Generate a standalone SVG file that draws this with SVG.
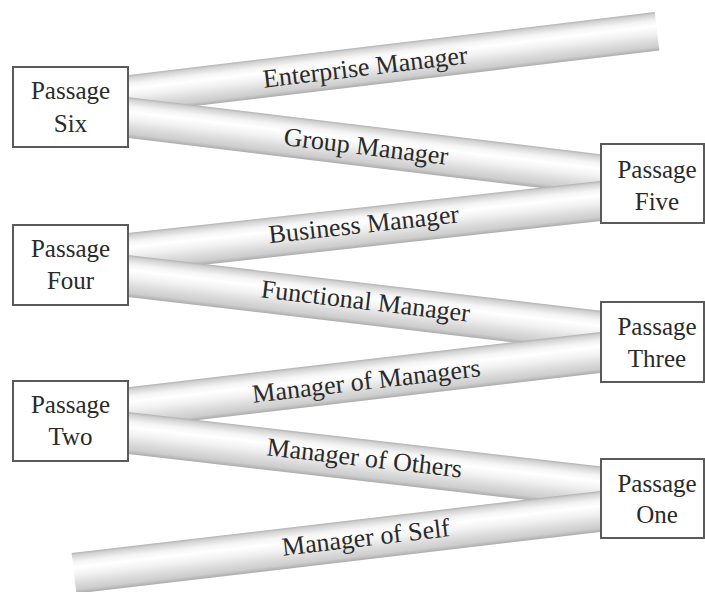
<svg xmlns="http://www.w3.org/2000/svg" width="705" height="592" viewBox="0 0 705 592">
  <style>
    .tube { fill: url(#tubeShade); }
    .tube-label { font-family: "Liberation Serif", "DejaVu Serif", serif; font-size: 26px; fill: #2a2a2a; text-anchor: middle; }
    .box { fill: #ffffff; stroke: #5a5a5a; stroke-width: 2; }
    .box-label { font-family: "Liberation Serif", "DejaVu Serif", serif; font-size: 25px; fill: #2a2a2a; text-anchor: middle; }
  </style>
  <defs>
    <!-- cylinder shading across the width of each pipe -->
    <linearGradient id="tubeShade" x1="0" y1="0" x2="0" y2="1">
      <stop offset="0" stop-color="#b2b2b2"/>
      <stop offset="0.06" stop-color="#d2d2d2"/>
      <stop offset="0.22" stop-color="#f4f4f4"/>
      <stop offset="0.36" stop-color="#ffffff"/>
      <stop offset="0.56" stop-color="#f0f0f0"/>
      <stop offset="0.74" stop-color="#dcdcdc"/>
      <stop offset="0.9" stop-color="#cdcdcd"/>
      <stop offset="1" stop-color="#acacac"/>
    </linearGradient>
  </defs>
  <rect width="705" height="592" fill="#ffffff"/>

  <!-- pipes, drawn top to bottom so the lower pipe overlaps at each junction -->
  <g id="connectors">
    <g id="pipe-enterprise-manager" transform="translate(100 97.85) rotate(-6.81)">
      <rect class="tube" x="0" y="-19.35" width="561" height="38.7"/>
      <text class="tube-label" x="267" y="9.3">Enterprise Manager</text>
    </g>
    <g id="pipe-group-manager" transform="translate(100 114.1) rotate(6.9)">
      <rect class="tube" x="0" y="-20.35" width="564" height="40.7"/>
      <text class="tube-label" x="268" y="8.7">Group Manager</text>
    </g>
    <g id="pipe-business-manager" transform="translate(100 256.1) rotate(-6.28)">
      <rect class="tube" x="0" y="-19.9" width="564" height="39.8"/>
      <text class="tube-label" x="265.6" y="5.8">Business Manager</text>
    </g>
    <g id="pipe-functional-manager" transform="translate(100 272.7) rotate(6.73)">
      <rect class="tube" x="0" y="-20.85" width="564" height="41.7"/>
      <text class="tube-label" x="267" y="5.6">Functional Manager</text>
    </g>
    <g id="pipe-manager-of-managers" transform="translate(100 411) rotate(-6.67)">
      <rect class="tube" x="0" y="-20.35" width="564" height="40.7"/>
      <text class="tube-label" x="268" y="9.7">Manager of Managers</text>
    </g>
    <g id="pipe-manager-of-others" transform="translate(100 429.8) rotate(6.56)">
      <rect class="tube" x="0" y="-20.85" width="564" height="41.7"/>
      <text class="tube-label" x="266" y="6.2">Manager of Others</text>
    </g>
    <g id="pipe-manager-of-self" transform="translate(74 573.3) rotate(-6.7)">
      <rect class="tube" x="0" y="-20.35" width="590" height="40.7"/>
      <text class="tube-label" x="294" y="7">Manager of Self</text>
    </g>
  </g>

  <!-- passages -->
  <g id="passage-six">
    <rect class="box" x="13" y="67" width="115" height="80"/>
    <text class="box-label" x="70.5" y="99">Passage</text>
    <text class="box-label" x="70.5" y="132">Six</text>
  </g>
  <g id="passage-five">
    <rect class="box" x="601" y="144" width="103" height="79"/>
    <text class="box-label" x="657" y="178">Passage</text>
    <text class="box-label" x="657" y="210">Five</text>
  </g>
  <g id="passage-four">
    <rect class="box" x="13" y="225" width="115" height="80"/>
    <text class="box-label" x="70.5" y="257">Passage</text>
    <text class="box-label" x="70.5" y="289">Four</text>
  </g>
  <g id="passage-three">
    <rect class="box" x="601" y="302" width="103" height="80"/>
    <text class="box-label" x="657" y="335">Passage</text>
    <text class="box-label" x="657" y="367">Three</text>
  </g>
  <g id="passage-two">
    <rect class="box" x="13" y="381" width="115" height="80"/>
    <text class="box-label" x="70.5" y="413">Passage</text>
    <text class="box-label" x="70.5" y="445">Two</text>
  </g>
  <g id="passage-one">
    <rect class="box" x="601" y="459" width="103" height="79"/>
    <text class="box-label" x="657" y="492">Passage</text>
    <text class="box-label" x="657" y="523">One</text>
  </g>
</svg>
